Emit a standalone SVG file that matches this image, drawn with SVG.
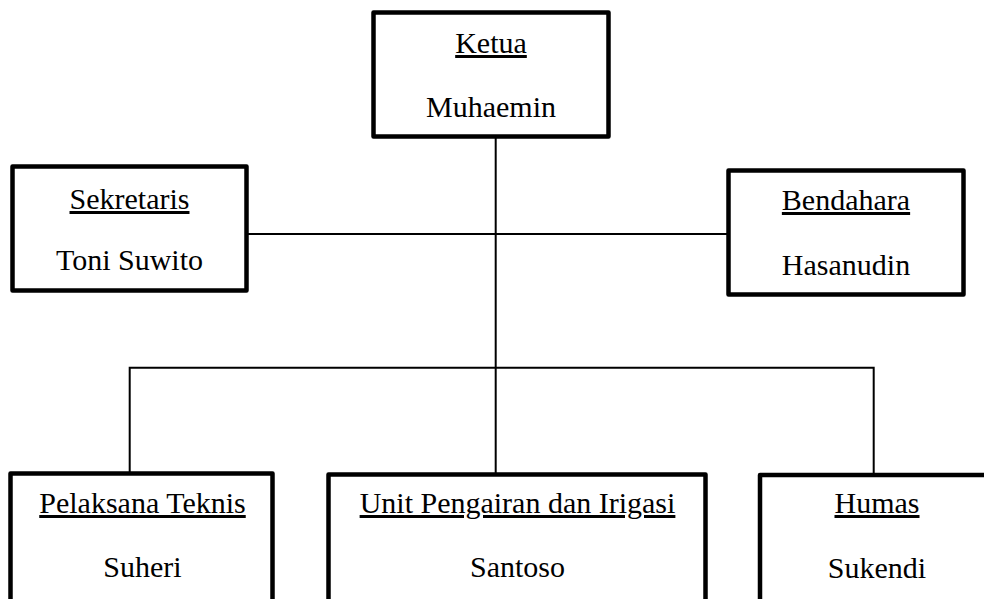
<svg xmlns="http://www.w3.org/2000/svg" width="984" height="599" viewBox="0 0 984 599">
<style>
.box{fill:#fff;stroke:#000;stroke-width:4.5;stroke-linejoin:round}
.ln{stroke:#000;stroke-width:2;fill:none}
text{font-family:"Liberation Serif","Times New Roman",serif;font-size:30px;fill:#000;text-anchor:middle}
.t{text-decoration:underline}
</style>
<rect width="984" height="599" fill="#fff"/>
<g id="connectors">
<line class="ln" x1="495.7" y1="137" x2="495.7" y2="474"/>
<line class="ln" x1="248" y1="234" x2="727" y2="234"/>
<polyline class="ln" points="129.7,472 129.7,367.7 873.7,367.7 873.7,474"/>
</g>
<g id="ketua">
<rect class="box" x="373.5" y="12.5" width="235" height="124"/>
<text class="t" x="491" y="53">Ketua</text>
<text x="491" y="117">Muhaemin</text>
</g>
<g id="sekretaris">
<rect class="box" x="12.5" y="166.5" width="234" height="124"/>
<text class="t" x="129.5" y="209">Sekretaris</text>
<text x="129.5" y="270">Toni Suwito</text>
</g>
<g id="bendahara">
<rect class="box" x="728.5" y="170.5" width="235" height="124"/>
<text class="t" x="846" y="210">Bendahara</text>
<text x="846" y="275">Hasanudin</text>
</g>
<g id="pelaksana">
<rect class="box" x="10.5" y="473.5" width="262" height="200"/>
<text class="t" x="142.5" y="513">Pelaksana Teknis</text>
<text x="142.5" y="577">Suheri</text>
</g>
<g id="unit">
<rect class="box" x="328.5" y="474.5" width="377" height="200"/>
<text class="t" x="517.5" y="513">Unit Pengairan dan Irigasi</text>
<text x="517.5" y="577">Santoso</text>
</g>
<g id="humas">
<rect class="box" x="760" y="475" width="234" height="200"/>
<text class="t" x="877" y="513">Humas</text>
<text x="877" y="578">Sukendi</text>
</g>
</svg>
